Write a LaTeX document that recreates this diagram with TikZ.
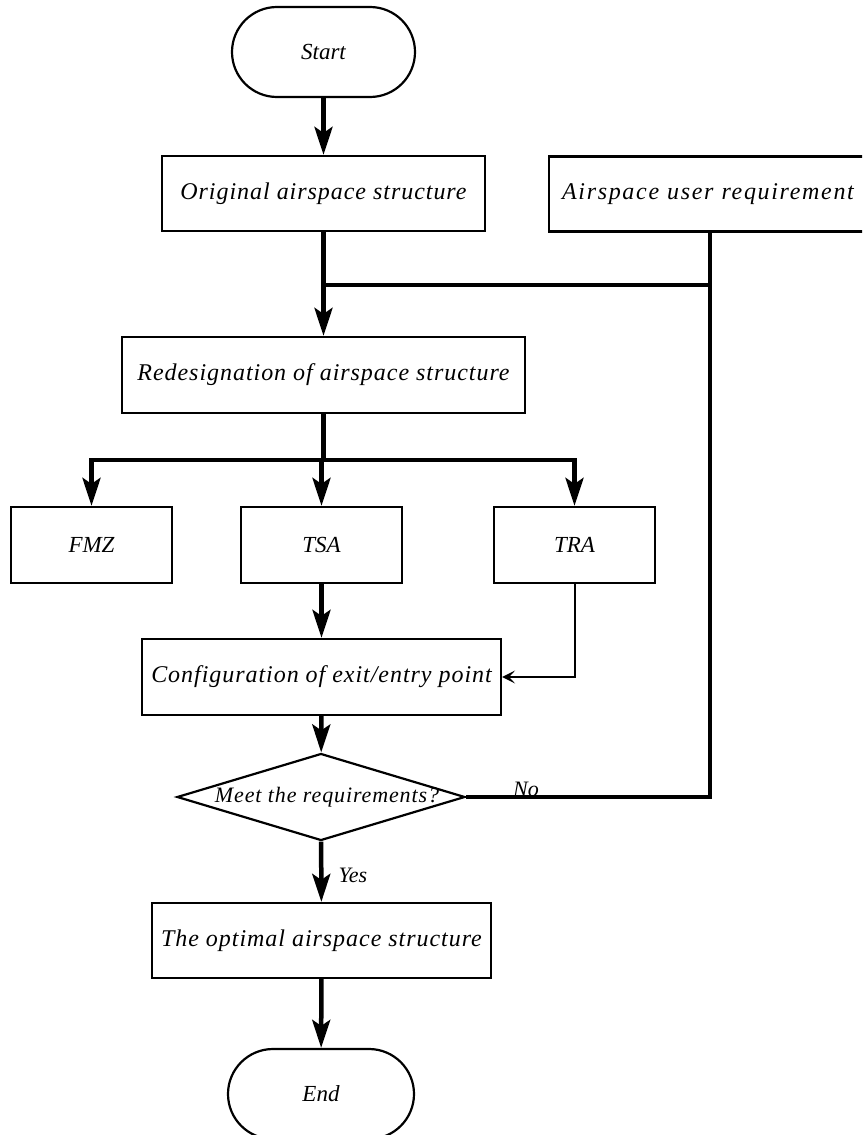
\documentclass[tikz,border=0pt]{standalone}
\usepackage{fontspec}
\setmainfont{Liberation Serif}
\newfontfamily\boxfont{Liberation Serif}[LetterSpace=4]
\newfontfamily\widefont{Liberation Serif}[LetterSpace=7]
\usetikzlibrary{arrows.meta,shapes.geometric}

\begin{document}
\begin{tikzpicture}[x=1pt,y=-1pt,
  box/.style={draw, line width=2.2pt, rectangle, minimum height=76pt, inner sep=0pt,
    font=\boxfont\itshape\fontsize{24}{28}\selectfont},
  small/.style={draw, line width=2.2pt, rectangle, minimum width=161pt, minimum height=76pt,
    inner sep=0pt, font=\itshape\fontsize{23}{27}\selectfont},
  term/.style={draw, line width=2.2pt, rectangle, rounded corners=45pt, minimum height=90pt,
    inner sep=0pt, font=\itshape\fontsize{23}{27}\selectfont},
  dia/.style={draw, line width=2.2pt, diamond, aspect=1, minimum width=288pt, minimum height=87pt,
    inner sep=0pt, font=\boxfont\itshape\fontsize{22}{26}\selectfont},
  flow/.style={line width=4.5pt, -{Stealth[length=28pt,width=18pt,inset=6pt]}},
  bus/.style={line width=4.5pt},
  side/.style={line width=2pt, -{Stealth[length=13pt,width=13pt,inset=6pt]}},
  lbl/.style={font=\itshape\fontsize{22}{26}\selectfont, inner sep=0pt}
]
\useasboundingbox (0,0) rectangle (862,1135);
\clip (0,0) rectangle (862,1135);

% main column
\node[term, minimum width=183pt] (start) at (323.5,52) {Start};
\node[box, minimum width=323pt, minimum height=75pt] (orig) at (323.5,193.5) {Original airspace structure};
\node[box, anchor=west, text width=320pt, align=left, inner xsep=13pt, minimum height=75pt,
  font=\widefont\itshape\fontsize{24}{28}\selectfont]
  (user) at (548,194) {Airspace user requirement};
\node[box, minimum width=403pt] (redes) at (323.5,375) {Redesignation of airspace structure};
\node[small] (fmz) at (91.5,545) {FMZ};
\node[small] (tsa) at (321.5,545) {TSA};
\node[small] (tra) at (574.5,545) {TRA};
\node[box, minimum width=359pt] (config) at (321.5,677) {Configuration of exit/entry point};
\node[dia] (dec) at (321,797) {\makebox[0pt]{\hspace*{12pt}Meet the requirements?}};
\node[box, minimum width=339pt, minimum height=75pt] (opt) at (321.5,940.5) {The optimal airspace structure};
\node[term, minimum width=186pt] (end) at (321,1094) {End};

% junction points
\coordinate (j0) at (323.5,285);
\coordinate (j1) at (710,285);
\coordinate (b) at (323.5,460);

% connectors
\draw[flow] (start) -- (orig);
\draw[flow] (orig) -- (redes);
\draw[bus] (j1 |- user.south) -- (j1);
\draw[bus] (dec.east) -| (j1) -- (j0);
\draw[bus] (redes.south) -- (b);
\draw[flow] (b) -| (fmz.north);
\draw[flow] (b) -| (tra.north);
\draw[flow] (tsa.north |- b) -- (tsa.north);
\draw[flow] (tsa) -- (config);
\draw[side] (tra.south) |- (config.east);
\draw[flow] (config) -- (dec);
\draw[flow] (dec) -- (opt);
\draw[flow] (opt) -- (end);

% branch labels
\node[lbl] (yes) at (353,875) {Yes};
\node[lbl] (no) at (526,789) {No};
\end{tikzpicture}
\end{document}
